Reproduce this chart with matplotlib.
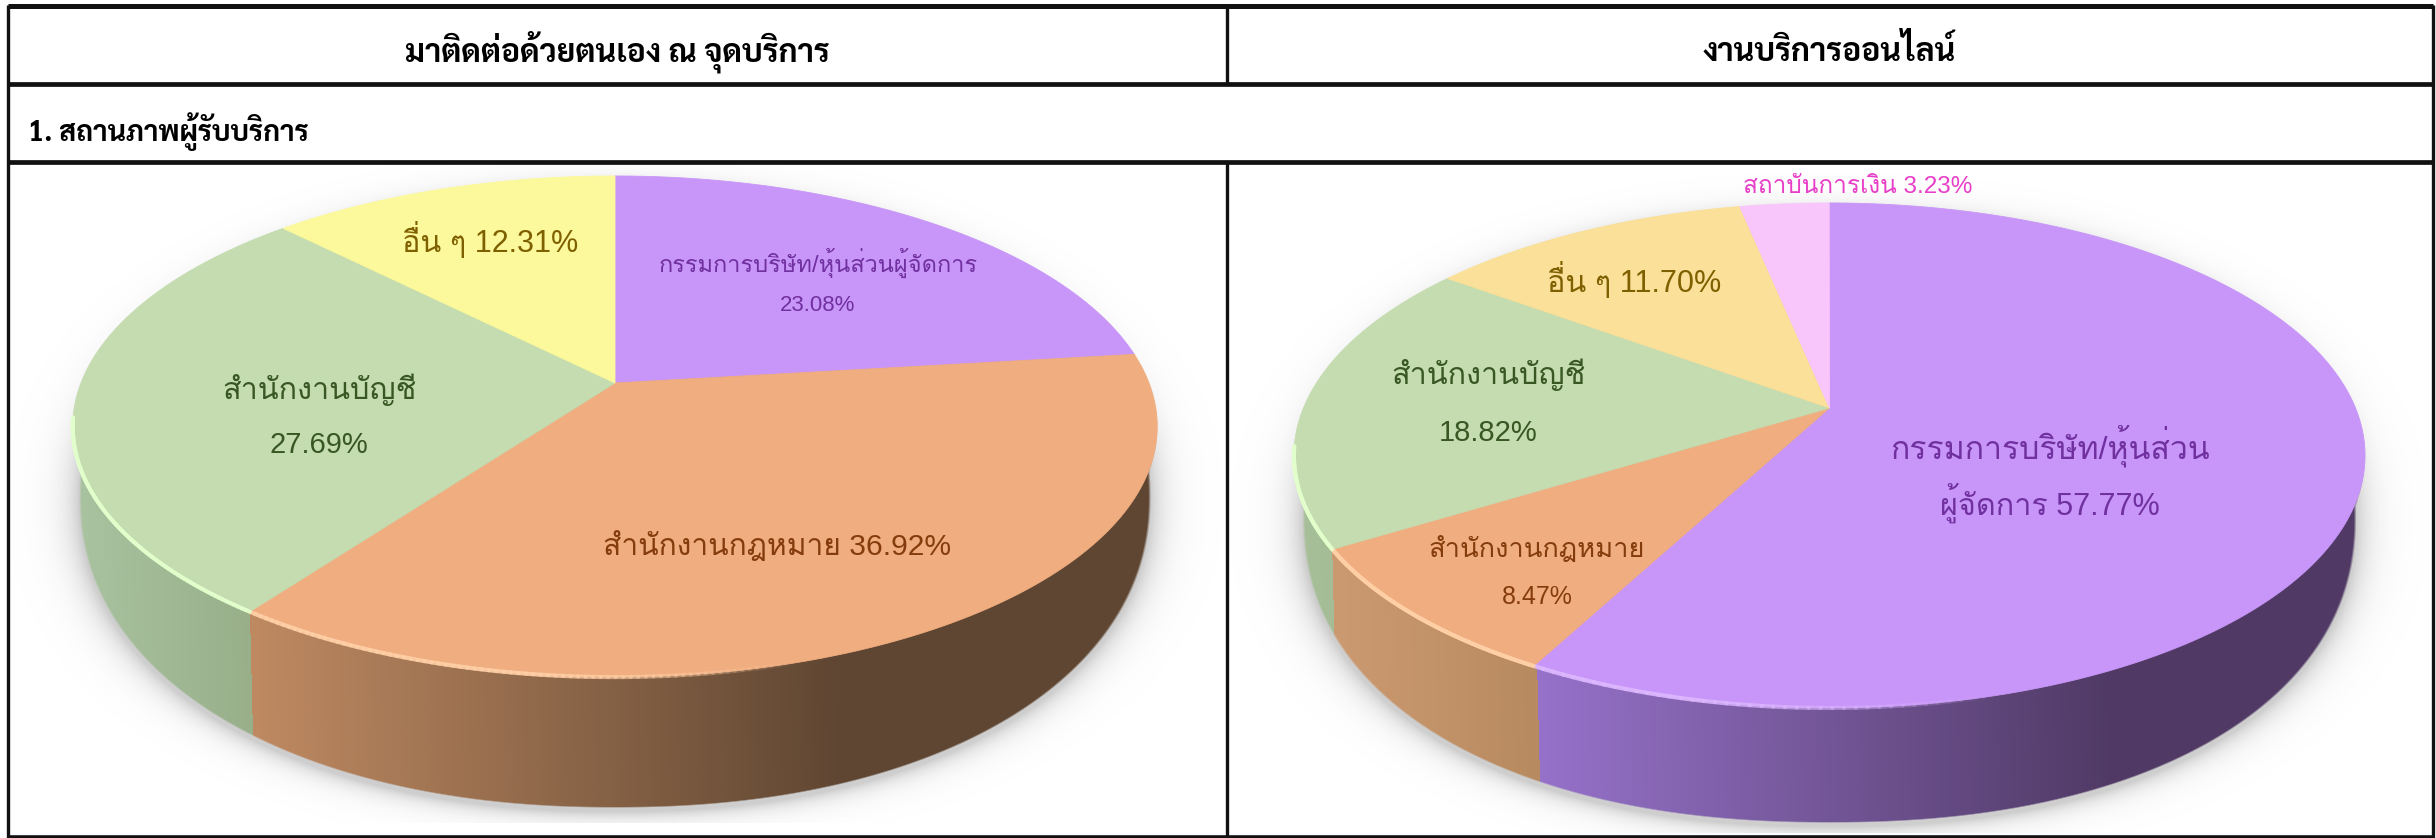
import numpy as np
import matplotlib
matplotlib.use("Agg")
import matplotlib.pyplot as plt
from matplotlib.collections import LineCollection
from matplotlib.colors import to_rgb

# header texts
head_left = "มาติดต่อด้วยตนเอง ณ จุดบริการ"
head_right = "งานบริการออนไลน์"
section_title = "1. สถานภาพผู้รับบริการ"

# share of each slice, clockwise from 12 o'clock
left_values = [23.08, 36.92, 27.69, 12.31]
left_colors = ["#C896F8", "#F0AD80", "#C4DCB0", "#FBF99B"]
right_values = [57.77, 8.47, 18.82, 11.70, 3.23]
right_colors = ["#C896F8", "#F0AD80", "#C4DCB0", "#FAE098", "#F8C6FB"]

# side wall colours per slice (colour at left end, colour at right end)
left_wall = [("#BF8A62", "#5F4632"), ("#BF8A62", "#5F4632"), ("#AAC3A0", "#98AF8A"), ("#AAC3A0", "#98AF8A")]
right_wall = [("#9672CA", "#503A65"), ("#CC9A70", "#B88A60"), ("#A9C29B", "#A5BC96"), ("#A9C29B", "#A5BC96"), ("#A9C29B", "#A5BC96")]
left_rim = ["#F5DCFF", "#FFCFA6", "#E2FFCC", "#FFFFFF"]
right_rim = ["#DDB8FF", "#FFCFA6", "#E2FFCC", "#FFFFFF", "#FFFFFF"]

TH = ["Liberation Sans", "Loma", "Noto Sans Thai Looped", "DejaVu Sans"]
HEAD = ["Sarabun", "Noto Sans Thai Looped", "DejaVu Sans"]

W, H = 2436, 838
fig = plt.figure(figsize=(W / 100, H / 100), dpi=100)
ax = fig.add_axes([0, 0, 1, 1])
ax.set_xlim(0, W)
ax.set_ylim(H, 0)
ax.axis("off")


def surface(ang, p):
    # perspective circle: the pie centre sits above the middle of the ellipse
    X, Y = np.sin(ang), np.cos(ang)
    w = 1 + p["k"] * Y
    return p["cx"] + p["a"] * X / w, p["ay"] - p["c"] * Y / w


def soft(d, r):
    return np.clip((1 - d) * r / 1.5, 0, 1)


def rim_dist(xx, yy, p, dy=0):
    n = p["n"]
    return (np.abs((xx - p["cx"]) / p["lrx"]) ** n + np.abs((yy - p["ly"] - dy) / p["lry"]) ** n) ** (1 / n)


def draw_pie(values, colors, walls, rims, p):
    edges = np.cumsum([0] + values) / 100 * 2 * np.pi
    # pixel grid for shadow and wall
    x0, x1, y0, y1 = p["box"]
    xx, yy = np.meshgrid(np.arange(x0, x1) + .5, np.arange(y0, y1) + .5)

    # soft shadow under the wall
    d = rim_dist(xx, yy, p, 4)
    shade = np.zeros(xx.shape + (4,))
    shade[..., :3] = 0.55
    shade[..., 3] = 0.42 * np.exp(-np.clip(d - 1, 0, None) * p["lry"] / 9)
    shade[d < .97, 3] = 0
    ax.imshow(shade, extent=(x0, x1, y1, y0), aspect="auto", zorder=1, interpolation="nearest")

    # wall: lower rim ellipse plus the surface pushed down a little
    drim = rim_dist(xx, yy, p)
    dtop = np.hypot((xx - p["cx"]) / p["srx"], (yy - p["sy"] - 5) / p["sry"])
    mask = np.maximum(soft(drim, p["lry"]), soft(dtop, p["sry"]))
    wall = np.zeros(xx.shape + (4,))
    wall[..., 3] = mask
    for i in range(len(values)):
        if i not in p["wall_range"]:
            continue
        c1, c2 = np.array(to_rgb(walls[i][0])), np.array(to_rgb(walls[i][1]))
        lo, hi = p["wall_range"][i]
        # boundaries lean a little to the right going down
        xr = xx - (yy - p["lean_y"]) * 0.025
        sel = (xr >= lo) & (xr < hi)
        g0, g1 = p["grad"][i]
        f = np.clip((xr - g0) / (g1 - g0), 0, 1)[..., None]
        col = c1 * (1 - f) + c2 * f
        wall[..., :3][sel] = col[sel]
    ax.imshow(wall, extent=(x0, x1, y1, y0), aspect="auto", zorder=2, interpolation="nearest")

    # top face
    for i, col in enumerate(colors):
        t = np.linspace(edges[i], edges[i + 1], 200)
        sx, sy = surface(t, p)
        ax.fill(np.r_[p["cx"], sx], np.r_[p["ay"], sy], color=col, lw=0.6, zorder=3)

    # bright edge along the front
    for i, col in enumerate(rims):
        t = np.linspace(edges[i], edges[i + 1], 200)
        sx, sy = surface(t, p)
        keep = sy > p["sy"] - 10
        sx, sy = sx[keep], sy[keep]
        if len(sx) < 2:
            continue
        pts = np.column_stack([sx, sy])
        segs = np.stack([pts[:-1], pts[1:]], axis=1)
        al = np.clip((p["fade_x"] - sx[:-1]) / p["fade_w"], 0, 1) * 0.9
        rgba = np.tile(to_rgb(col) + (0,), (len(segs), 1))
        rgba[:, 3] = al
        ax.add_collection(LineCollection(segs, colors=rgba, linewidths=3.0, zorder=4, capstyle="round"))


left_pie = dict(cx=615, ay=383, k=0.1737, a=534, c=243,
                srx=542, sry=250.5, sy=426.5, lrx=536, lry=311, ly=497, n=2.15,
                box=(10, 1225, 165, 823), lean_y=614, fade_x=800, fade_w=260,
                wall_range={1: (250, 2000), 2: (0, 250)},
                grad={1: (250, 840), 2: (75, 250)})
right_pie = dict(cx=1829.5, ay=408, k=0.188, a=526, c=243.6,
                 srx=535.5, sry=252.5, sy=455.5, lrx=527, lry=306, ly=517, n=2.2,
                 box=(1229, 2431, 165, 833), lean_y=660, fade_x=2000, fade_w=300,
                 wall_range={0: (1537, 3000), 1: (1335, 1537), 2: (1000, 1335)},
                 grad={0: (1537, 2110), 1: (1335, 1537), 2: (1290, 1335)})

draw_pie(left_values, left_colors, left_wall, left_rim, left_pie)
draw_pie(right_values, right_colors, right_wall, right_rim, right_pie)

# table frame
lk = "#111111"
ax.plot([8, 2433], [6, 6], color=lk, lw=3.6, zorder=6, solid_capstyle="butt")
ax.plot([8, 2433], [84, 84], color=lk, lw=3.4, zorder=6, solid_capstyle="butt")
ax.plot([8, 2433], [162, 162], color=lk, lw=3.4, zorder=6, solid_capstyle="butt")
ax.plot([8, 2433], [836.5, 836.5], color=lk, lw=2.6, zorder=6, solid_capstyle="butt")
ax.plot([7.5, 7.5], [5, 838], color=lk, lw=2.4, zorder=6, solid_capstyle="butt")
ax.plot([2433, 2433], [5, 838], color=lk, lw=2.4, zorder=6, solid_capstyle="butt")
ax.plot([1227, 1227], [5, 84], color=lk, lw=2.4, zorder=6, solid_capstyle="butt")
ax.plot([1227, 1227], [162, 838], color=lk, lw=2.4, zorder=6, solid_capstyle="butt")


def label(x, y, s, size, color, family=TH, weight="normal", ha="center"):
    ax.text(x, y, s, fontsize=size, color=color, family=family, weight=weight, ha=ha, va="center", zorder=7)


label(617, 51.5, head_left, 23, "black", HEAD, "bold")
label(1829, 51.5, head_right, 23, "black", HEAD, "bold")
label(28, 132, section_title, 20.5, "black", HEAD, "bold", ha="left")

purple, brown, green, olive = "#7030A0", "#843C0C", "#385723", "#7F6000"
label(818, 263, "กรรมการบริษัท/หุ้นส่วนผู้จัดการ", 17, purple)
label(818, 305, "23.08%", 16, purple)
label(490, 240, "อื่น ๆ 12.31%", 22, olive)
label(319, 390, "สำนักงานบัญชี", 22, green)
label(319, 445, "27.69%", 21, green)
label(777, 545, "สำนักงานกฎหมาย 36.92%", 21.6, brown)

label(1858, 187, "สถาบันการเงิน 3.23%", 17.5, "#E83FC8")
label(1634, 280, "อื่น ๆ 11.70%", 22, olive)
label(1488, 375, "สำนักงานบัญชี", 22, green)
label(1488, 433, "18.82%", 21, green)
label(2050, 446, "กรรมการบริษัท/หุ้นส่วน", 23, purple)
label(2050, 503, "ผู้จัดการ 57.77%", 22, purple)
label(1537, 550, "สำนักงานกฎหมาย", 19.6, brown)
label(1537, 597, "8.47%", 18, brown)

ax.set_xlim(0, W)
ax.set_ylim(H, 0)
fig.savefig("out.png", dpi=100)
